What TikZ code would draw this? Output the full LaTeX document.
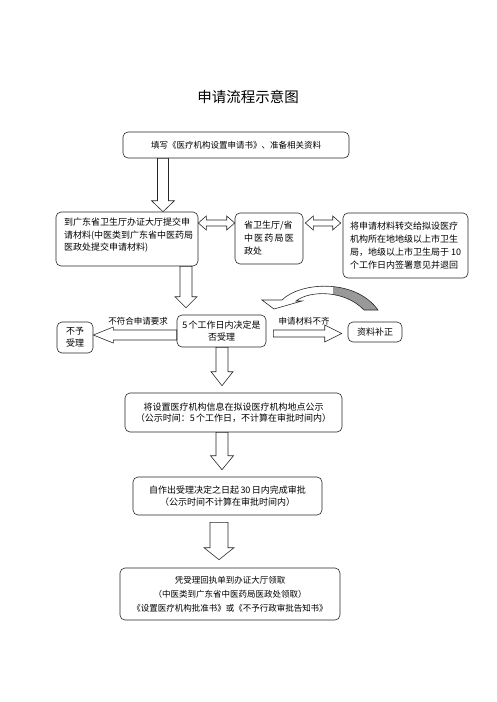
\documentclass[tikz,border=0pt]{standalone}
\usepackage{fontspec}
\newfontfamily\cjk{Noto Sans CJK SC}
\usetikzlibrary{calc}

% block arrows: tail, tip, half shaft, half head, head length
\newcommand{\blkdown}[5]{%
  \draw[blk] let \p1=(#1), \p2=(#2) in
    (\x1-#3,\y1) -- (\x1+#3,\y1) -- (\x1+#3,\y2+#5) -- (\x1+#4,\y2+#5)
    -- (\x1,\y2) -- (\x1-#4,\y2+#5) -- (\x1-#3,\y2+#5) -- cycle;}
\newcommand{\blkside}[5]{%
  \draw[blk] let \p1=(#1), \p2=(#2), \n1={sign(\x2-\x1)} in
    (\x1,{\y2-#3}) -- ({\x2-(\n1)*#5},{\y2-#3}) -- ({\x2-(\n1)*#5},{\y2-#4}) -- (\x2,\y2)
    -- ({\x2-(\n1)*#5},{\y2+#4}) -- ({\x2-(\n1)*#5},{\y2+#3}) -- (\x1,{\y2+#3}) -- cycle;}
\newcommand{\blkdbl}[5]{%
  \draw[blk] let \p1=(#1), \p2=(#2) in
    (\x1,\y1) -- (\x1+#5,\y1+#4) -- (\x1+#5,\y1+#3) -- (\x2-#5,\y1+#3)
    -- (\x2-#5,\y1+#4) -- (\x2,\y1) -- (\x2-#5,\y1-#4) -- (\x2-#5,\y1-#3)
    -- (\x1+#5,\y1-#3) -- (\x1+#5,\y1-#4) -- cycle;}

\begin{document}
\begin{tikzpicture}[x=1pt,y=-1pt,
  font=\cjk\fontsize{9}{12.5}\selectfont,
  box/.style={draw=black!85,line width=0.6pt,rounded corners=5pt,align=center,inner sep=0pt},
  blk/.style={draw=black!85,line width=0.6pt,fill=white},
  lbl/.style={font=\cjk\fontsize{8.5}{10}\selectfont}
]
\useasboundingbox (0,0) rectangle (496,702);
\node[font=\cjk\fontsize{14.5}{16}\selectfont] (title) at (248,97) {申请流程示意图};
\node[box,minimum width=226pt,minimum height=26pt,font=\cjk\fontsize{8.5}{10}\selectfont] (fill) at (236,145) {填写《医疗机构设置申请书》、准备相关资料};
\node[box,minimum width=142pt,minimum height=54pt] (submit) at (127,239) {\parbox[c][42pt][t]{126pt}{到广东省卫生厅办证大厅提交申\\请材料(中医类到广东省中医药局\\医政处提交申请材料)}};
\node[box,minimum width=68pt,minimum height=51pt,align=left,font=\cjk\fontsize{9}{13}\selectfont] (prov) at (269,238.5) {省卫生厅/省\\\makebox[50pt][s]{中\hfill 医\hfill 药\hfill 局\hfill 医}\\政处};
\node[box,minimum width=125pt,minimum height=65pt,align=left,font=\cjk\fontsize{9}{13}\selectfont] (forward) at (405.5,245.5) {将申请材料转交给拟设医疗\\机构所在地地级以上市卫生\\局，地级以上市卫生局于 10\\个工作日内签署意见并退回};
\node[box,minimum width=89pt,minimum height=32pt] (decide) at (221.5,331) {5\,个工作日内决定是\\否受理};
\node[box,minimum width=36pt,minimum height=31pt] (reject) at (75,337.5) {不予\\受理};
\node[box,minimum width=54pt,minimum height=20pt] (supplement) at (375,332) {资料补正};
\node[box,minimum width=217pt,minimum height=39pt,font=\cjk\fontsize{9}{11.5}\selectfont] (publicize) at (233.5,412.5) {将设置医疗机构信息在拟设医疗机构地点公示\\（公示时间：5\,个工作日，不计算在审批时间内）};
\node[box,minimum width=189pt,minimum height=38pt] (approve) at (227.5,496) {自作出受理决定之日起\,30\,日内完成审批\\（公示时间不计算在审批时间内）};
\node[box,minimum width=220pt,minimum height=52pt,font=\cjk\fontsize{8.5}{14}\selectfont] (collect) at (230,594) {凭受理回执单到办证大厅领取\\（中医类到广东省中医药局医政处领取）\\《设置医疗机构批准书》或《不予行政审批告知书》};
\node[lbl] (nofit) at (138,321) {不符合申请要求};
\node[lbl] (lack) at (304,321) {申请材料不齐};

\coordinate (a1) at (163,0);
\coordinate (a2) at (186,0);
\coordinate (a3) at (222,0);
\coordinate (a5) at (219,0);
\coordinate (r1) at (0,223);
\coordinate (r2) at (0,335);
\coordinate (r3) at (0,333.5);

\blkdown{fill.south -| a1}{submit.north -| a1}{5.5pt}{11.5pt}{11pt}
\blkdown{submit.south -| a2}{$(decide.north -| a2)+(0,-7)$}{6pt}{11pt}{11pt}
\blkdown{decide.south -| a3}{$(publicize.north -| a3)+(0,-7)$}{6pt}{11pt}{14pt}
\blkdown{publicize.south -| a3}{$(approve.north -| a3)+(0,-7)$}{6pt}{11.5pt}{14pt}
\blkdown{$(approve.south -| a5)+(0,7)$}{$(collect.north -| a5)+(0,-8)$}{9pt}{15pt}{12pt}
\blkdbl{submit.east |- r1}{prov.west |- r1}{3pt}{7pt}{8pt}
\blkdbl{$(prov.east |- r1)+(2,0)$}{$(forward.west |- r1)+(-2,0)$}{3pt}{7pt}{8pt}
\blkside{decide.west |- r2}{reject.east |- r2}{5pt}{8pt}{20pt}
\blkside{$(decide.east |- r3)+(7,0)$}{$(supplement.west |- r3)+(-6,0)$}{3.5pt}{8.5pt}{17pt}

\def\turnback{(262,300) -- (282,300) .. controls (300,282) and (355,278) .. (378,310) -- (364,310) .. controls (345,290) and (310,290) .. (296,301) -- (302,301) -- (274,309) -- cycle}
\fill[white] \turnback;
\begin{scope}
  \clip (333,270) rectangle (390,320);
  \fill[black!40] \turnback;
\end{scope}
\draw[draw=black!85,line width=0.6pt] \turnback;
\end{tikzpicture}
\end{document}
